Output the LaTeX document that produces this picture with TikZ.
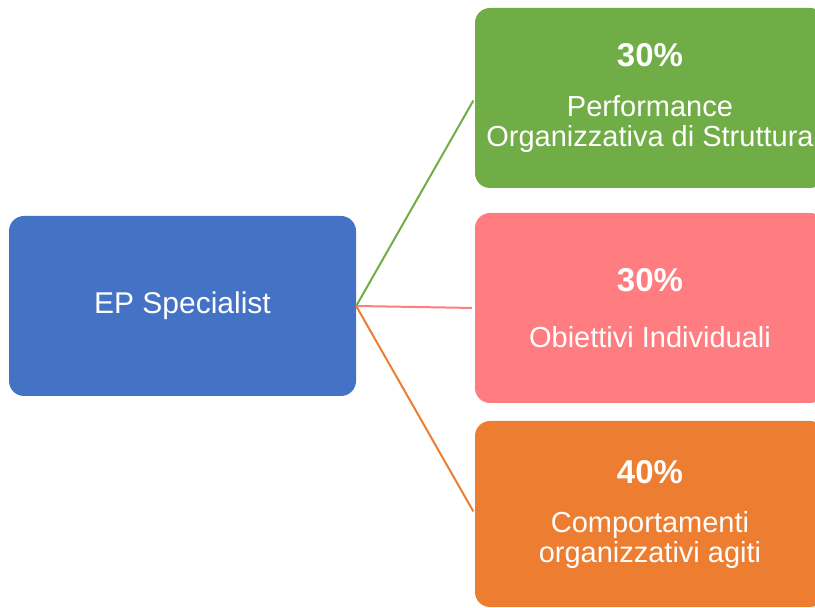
\documentclass[tikz,border=0pt]{standalone}
\usepackage{fontspec}
\setmainfont{Liberation Sans}
\usetikzlibrary{positioning}
\definecolor{epblue}{HTML}{4472C4}
\definecolor{epgreen}{HTML}{70AD47}
\definecolor{eppink}{HTML}{FF7C80}
\definecolor{eporange}{HTML}{ED7D31}
\tikzset{block/.style={rounded corners=15pt, inner sep=0pt, text=white, align=center, font=\fontsize{29}{30}\selectfont}}
\tikzset{connect/.style={draw, line width=2pt, shorten >=3pt}}
\newcommand{\pct}[1]{{\fontsize{33}{30}\selectfont\bfseries #1}}

\begin{document}
\begin{tikzpicture}[x=1pt,y=1pt]

\useasboundingbox (0,0) rectangle (815,608);
\clip (0,0) rectangle (815,608);

%main block
\node[block,fill=epblue,minimum width=347pt,minimum height=180pt,font=\fontsize{30}{30}\selectfont] (ep) at (182.5,302) {EP Specialist};

%weights
\node[block,fill=epgreen,minimum width=350pt,minimum height=180pt] (perf) at (650,510) {\pct{30\%}\\[20pt]Performance\\Organizzativa di Struttura};
\node[block,fill=eppink,minimum width=350pt,minimum height=190pt] (obj) at (650,300) {\pct{30\%}\\[26pt]Obiettivi Individuali};
\node[block,fill=eporange,minimum width=350pt,minimum height=186pt] (behav) at (650,94) {\pct{40\%}\\[19pt]Comportamenti\\organizzativi agiti};

%links
\path[connect,epgreen] (ep.east) -- (perf.west);
\path[connect,eppink] (ep.east) -- (obj.west);
\path[connect,eporange] (ep.east) -- (behav.west);

\end{tikzpicture}
\end{document}
